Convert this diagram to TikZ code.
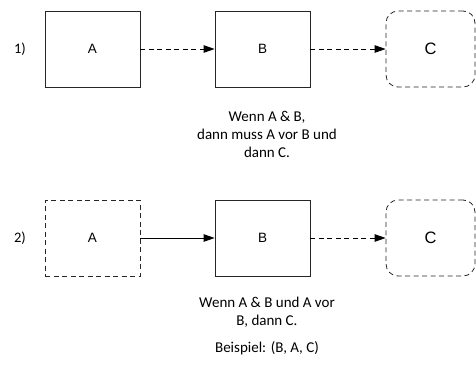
\documentclass[tikz,border=0pt]{standalone}
\usepackage{fontspec}
\setmainfont{Carlito}
\newfontfamily\arialfont{Liberation Sans}
\usetikzlibrary{arrows.meta}
\begin{document}
\begin{tikzpicture}[x=1pt,y=-1pt,
  box/.style={draw=black!85, line width=0.8pt, minimum width=95pt, minimum height=76pt, inner sep=0pt, font=\arialfont\fontsize{13.5}{15}\selectfont},
  dbox/.style={box, dash pattern=on 5pt off 3.5pt},
  cbox/.style={dbox, minimum width=89pt, rounded corners=12pt, font=\arialfont\fontsize{16.5}{18}\selectfont},
  conn/.style={line width=0.8pt, -{Triangle[length=11pt,width=7.5pt]}},
  dconn/.style={conn, dash pattern=on 5pt off 3.5pt},
  lbl/.style={font=\fontsize{14.5}{16}\selectfont, inner sep=0pt},
  txt/.style={font=\fontsize{15}{18}\selectfont, align=center, inner sep=0pt}]
\useasboundingbox (0,0) rectangle (476,380);
% row 1
\node[lbl] (n1) at (20,49) {1)};
\node[box] (a1) at (92.5,49) {A};
\node[box] (b1) at (262.5,49) {B};
\node[cbox] (c1) at (430.5,49) {C};
\draw[dconn] (a1) -- (b1);
\draw[dconn] (b1) -- (c1);
\node[txt] (t1) at (267,134) {Wenn A \& B,\\dann muss A vor B und\\dann C.};
% row 2
\node[lbl] (n2) at (20,238) {2)};
\node[dbox] (a2) at (92.5,238) {A};
\node[box] (b2) at (262.5,238) {B};
\node[cbox] (c2) at (430.5,238) {C};
\draw[conn] (a2) -- (b2);
\draw[dconn] (b2) -- (c2);
\node[txt] (t2) at (267,312) {Wenn A \& B und A vor\\B, dann C.};
\node[txt] (t3) at (267,348) {Beispiel: (B, A, C)};
\end{tikzpicture}
\end{document}
